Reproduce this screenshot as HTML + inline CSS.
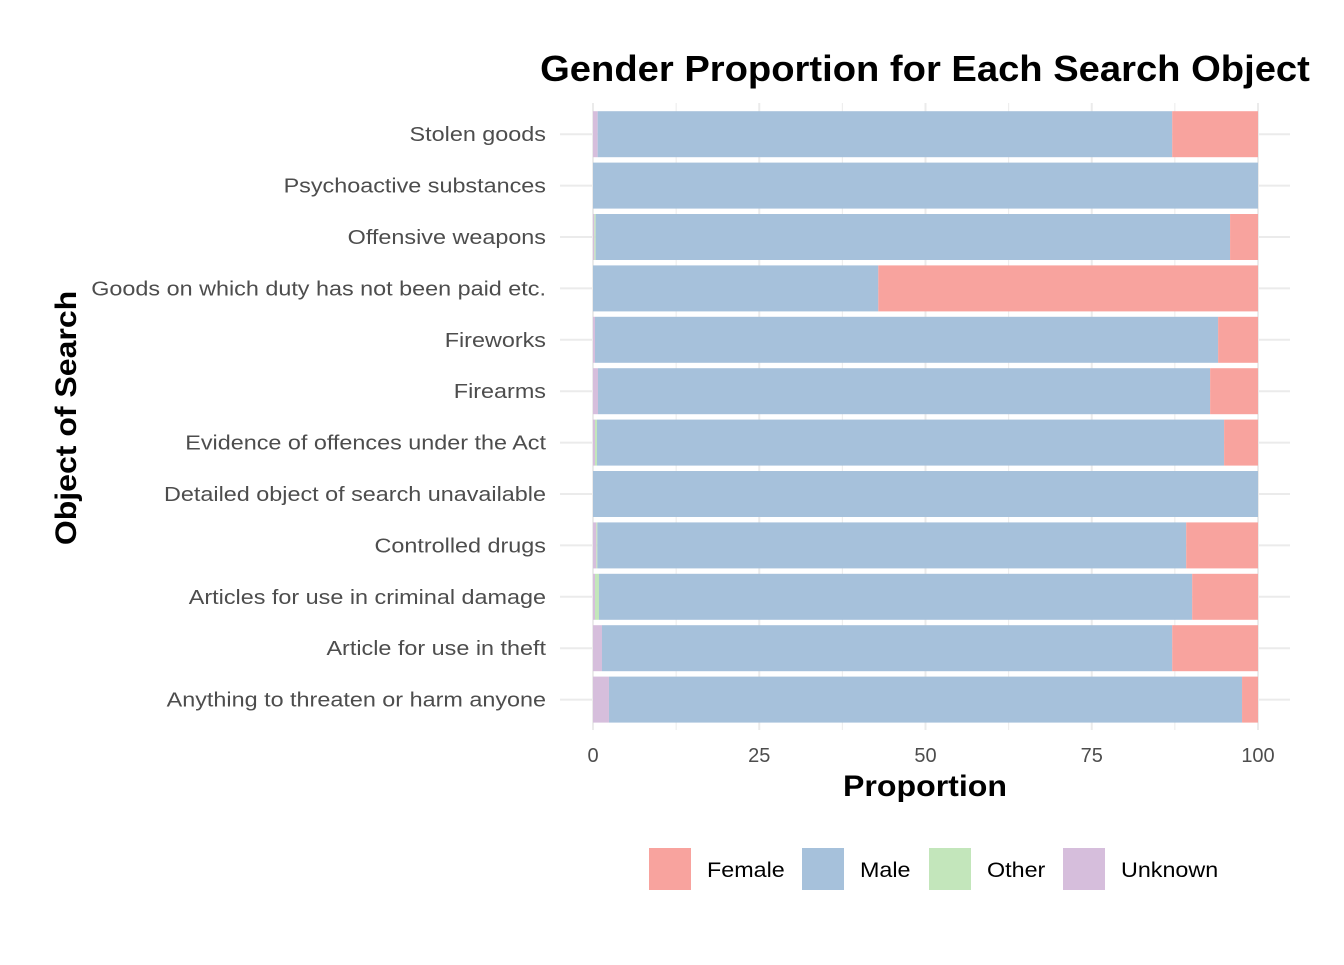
<!DOCTYPE html>
<html><head><meta charset="utf-8"><style>
body{margin:0;background:#fff;}
svg text{font-family:"Liberation Sans",Arial,sans-serif;}
</style></head><body>
<svg id="chart" width="1344" height="960">
<text id="title" x="925" y="81" text-anchor="middle" font-size="36" font-weight="bold">Gender Proportion for Each Search Object</text>
<g id="grid"></g>
<g id="bars"></g>
<g id="ylabels"></g>
<g id="xlabels"></g>
<text id="xtitle" x="925" y="796" text-anchor="middle" font-size="30" font-weight="bold">Proportion</text>
<text id="ytitle" transform="translate(76,418) rotate(-90)" text-anchor="middle" font-size="30" font-weight="bold">Object of Search</text>
<g id="legend"></g>
</svg>
<script>
const categories=["Stolen goods","Psychoactive substances","Offensive weapons","Goods on which duty has not been paid etc.","Fireworks","Firearms","Evidence of offences under the Act","Detailed object of search unavailable","Controlled drugs","Articles for use in criminal damage","Article for use in theft","Anything to threaten or harm anyone"];
const unknownVals=[0.7,0,0.2,0,0.3,0.75,0.3,0,0.5,0.3,1.35,2.4];
const otherVals=[0,0,0.2,0,0,0,0.3,0,0.15,0.6,0,0];
const femaleVals=[12.9,0,4.2,57.1,6.0,7.2,5.1,0,10.8,9.9,12.9,2.4];
const xTicks=[0,25,50,75,100];
const seriesNames=["Female","Male","Other","Unknown"];
const colors={Female:"#F8A39E",Male:"#A6C1DB",Other:"#C3E6BB",Unknown:"#D6BEDC"};
const NS="http://www.w3.org/2000/svg";
const x0=593,x1=1258;
const xs=v=>x0+(x1-x0)*v/100;
const top0=108.5,step=51.4,bh=46;
const yc=i=>top0+step*i+step/2;
function mk(tag,attrs,parent){const e=document.createElementNS(NS,tag);for(const k in attrs)e.setAttribute(k,attrs[k]);parent.appendChild(e);return e;}
function stretch(t,f){const w=t.getComputedTextLength();t.setAttribute('textLength',w*f);t.setAttribute('lengthAdjust','spacingAndGlyphs');}
const grid=document.getElementById('grid');
for(let v=0;v<=100;v+=12.5){const l=mk('line',{x1:xs(v),x2:xs(v),y1:103,y2:730,stroke:'#ebebeb','stroke-width':v%25===0?2:1},grid);

}
categories.forEach((c,i)=>{const l=mk('line',{x1:560,x2:1290,y1:yc(i),y2:yc(i),stroke:'#ebebeb','stroke-width':2},grid);

});
const bars=document.getElementById('bars'),yl=document.getElementById('ylabels');
categories.forEach((c,i)=>{
 const u=unknownVals[i],o=otherVals[i],f=femaleVals[i],m=100-u-o-f;
 const segs=[["Unknown",0,u],["Other",u,u+o],["Male",u+o,u+o+m],["Female",u+o+m,100]];
 segs.forEach(s=>{if(s[2]-s[1]<=0)return;
  const r=mk('rect',{x:xs(s[1]),y:yc(i)-bh/2,width:xs(s[2])-xs(s[1]),height:bh,fill:colors[s[0]]},bars);
  
  });
 const t=mk('text',{x:546,y:yc(i)+7,'text-anchor':'end','font-size':20.5,fill:'#4d4d4d'},yl);t.textContent=c;
 
 
 stretch(t,1.14);
});
const xl=document.getElementById('xlabels');
xTicks.forEach(v=>{const t=mk('text',{x:xs(v),y:762,'text-anchor':'middle','font-size':20,fill:'#4d4d4d'},xl);t.textContent=v;

});
const lg=document.getElementById('legend');
const lx=[649,802,929,1063];
seriesNames.forEach((n,i)=>{
 const g=mk('g',{},lg);
 
 
 mk('rect',{x:lx[i],y:848,width:42,height:42,fill:colors[n]},g);
 const t=mk('text',{x:lx[i]+58,y:877,'font-size':21,fill:'#000'},g);t.textContent=n;
 stretch(t,1.11);
});
stretch(document.getElementById('title'),1.06);
stretch(document.getElementById('xtitle'),1.07);
stretch(document.getElementById('ytitle'),1.067);
</script>
</body></html>
